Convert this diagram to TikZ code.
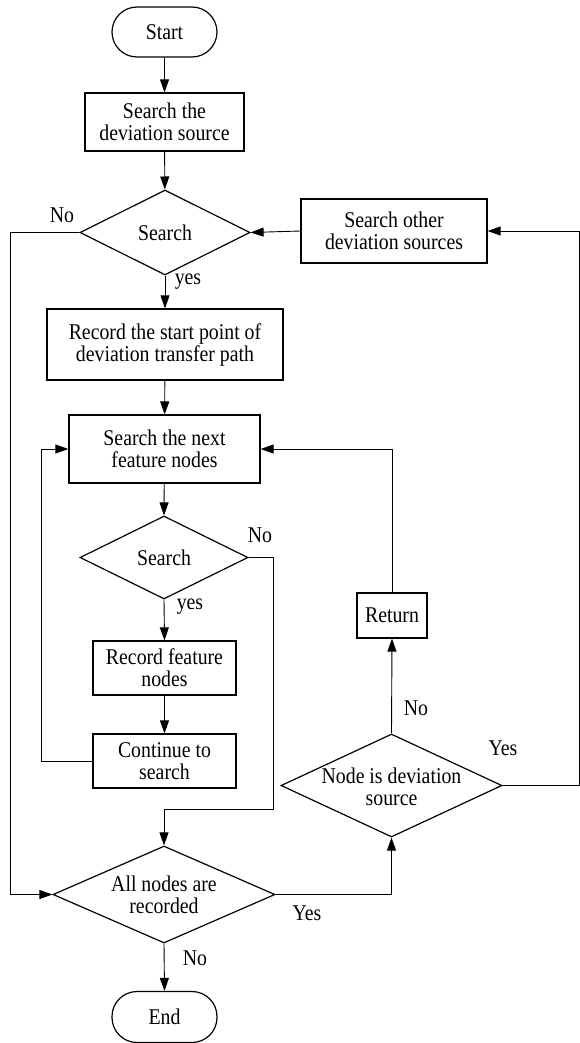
\documentclass[tikz,border=0pt]{standalone}
\usepackage{fontspec}
\setmainfont[FakeStretch=0.88]{Liberation Serif}
\usetikzlibrary{shapes.geometric,arrows.meta}
\tikzset{
  base/.style={font=\fontsize{22.5}{22}\selectfont, align=center, inner sep=0pt},
  term/.style={base, draw, line width=1.2pt, minimum width=105pt, minimum height=50pt, rounded corners=25pt},
  proc/.style={base, draw, line width=1.2pt},
  dia/.style={draw, shape=diamond, line width=1.2pt, inner sep=0pt},
  lbl/.style={font=\fontsize{22.5}{22}\selectfont, inner sep=0pt},
  conn/.style={line width=0.9pt, -{Triangle[length=13pt,width=9pt]}},
  line/.style={line width=0.9pt}
}
\begin{document}
\begin{tikzpicture}[x=1pt,y=-1pt]
\useasboundingbox (0,0) rectangle (580,1043);
% nodes
\node[term] (start) at (164.5,32) {Start};
\node[proc, minimum width=159pt, minimum height=58pt] (b1) at (164.5,122) {Search the\\deviation source};
\node[dia, minimum width=170pt, minimum height=85pt] (d1) at (165,232.5) {};
\node[base] at (d1) {Search};
\node[proc, minimum width=186pt, minimum height=64pt] (other) at (394,231) {Search other\\deviation sources};
\node[proc, minimum width=236pt, minimum height=71pt] (b2) at (165,344.5) {Record the start point of\\deviation transfer path};
\node[proc, minimum width=191pt, minimum height=68pt] (b3) at (164.5,449) {Search the next\\feature nodes};
\node[dia, minimum width=168pt, minimum height=83pt] (d2) at (164,557.5) {};
\node[base] at (d2) {Search};
\node[proc, minimum width=143pt, minimum height=54pt] (b4) at (164.5,668) {Record feature\\nodes};
\node[proc, minimum width=143pt, minimum height=54pt] (b5) at (164.5,761) {Continue to\\search};
\node[dia, minimum width=222pt, minimum height=97pt] (d4) at (164,894.5) {};
\node[base] at (d4) {All nodes are\\recorded};
\node[dia, minimum width=221pt, minimum height=103pt] (d3) at (391.5,785.5) {};
\node[base] at (391.5,787) {Node is deviation\\source};
\node[proc, minimum width=70pt, minimum height=45pt] (ret) at (392,615.5) {Return};
\node[term, minimum height=51pt] (end) at (164.5,1017) {End};
% helper coordinates
\coordinate (lx) at (10,0);
\coordinate (lx2) at (41,0);
\coordinate (rx) at (273,0);
\coordinate (rr) at (579,0);
\coordinate (mid) at (273,809);
% connectors
\draw[conn] (start) -- (b1);
\draw[conn] (b1) -- (d1);
\draw[conn] (other.west) -- (d1.east);
\draw[conn] (d1.west) -- (lx |- d1.west) |- (d4.west);
\draw[conn] (d1.south) -- (b2.north);
\draw[conn] (b2) -- (b3);
\draw[conn] (b3) -- (d2.north);
\draw[conn] (d2.south) -- (b4.north);
\draw[conn] (b4) -- (b5);
\draw[conn] (b5.west) -- (lx2 |- b5.west) |- (b3.west);
\draw[conn] (d2.east) -- (rx |- d2.east) -- (mid) -| (d4.north);
\draw[conn] (d4.east) -| (d3.south);
\draw[conn] (d3.north) -- (ret.south);
\draw[conn] (ret.north) |- (b3.east);
\draw[conn] (d3.east) -- (rr |- d3.east) |- (other.east);
\draw[conn] (d4.south) -- (end.north);
% labels
\node[lbl] at (62,215) {No};
\node[lbl] at (188,282) {yes};
\node[lbl] at (260,535) {No};
\node[lbl] at (190,607) {yes};
\node[lbl] at (416,708) {No};
\node[lbl] at (503,748) {Yes};
\node[lbl] at (307,913) {Yes};
\node[lbl] at (195,958) {No};
\end{tikzpicture}
\end{document}
